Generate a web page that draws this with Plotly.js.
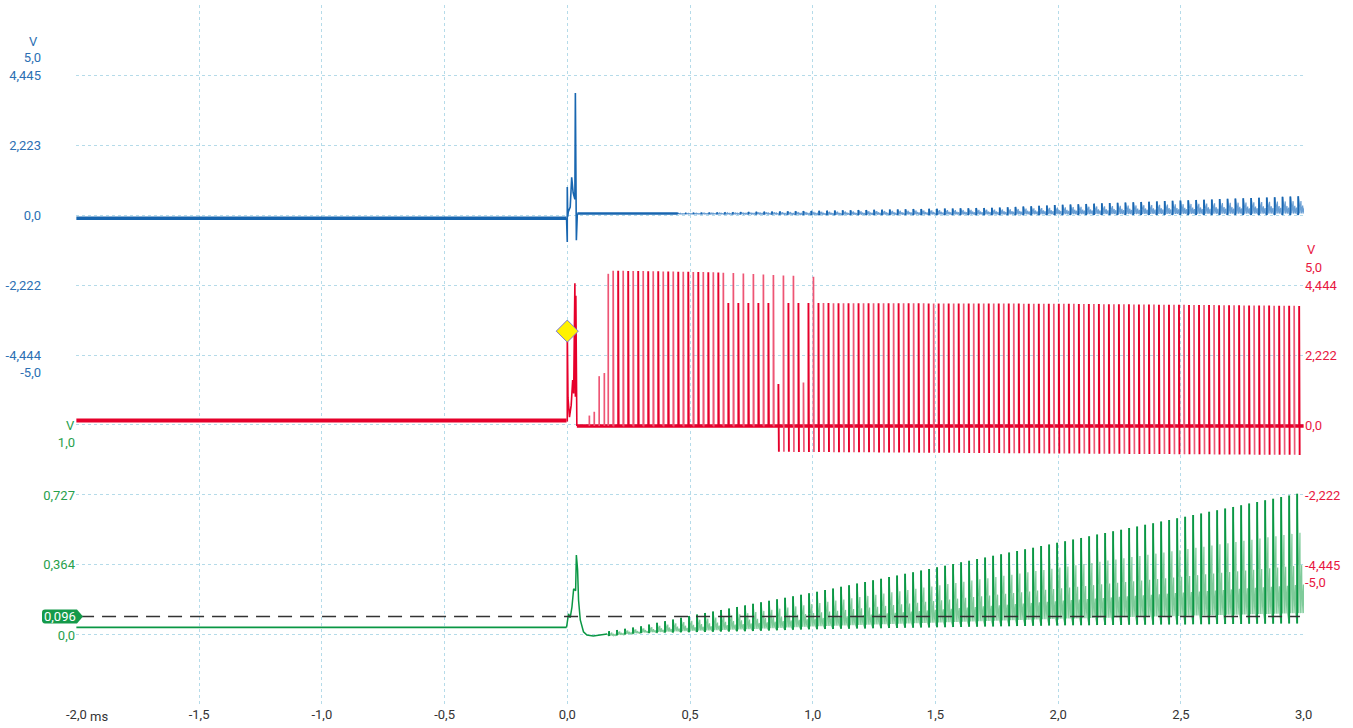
<!DOCTYPE html>
<html><head><meta charset="utf-8">
<script src="https://cdn.plot.ly/plotly-3.0.1.min.js"></script>
<style>html,body{margin:0;padding:0;background:#fff;}#chart{width:1353px;height:728px;}</style>
</head><body><div id="chart"></div>
<script>
// ---------- tick labels ----------
const timeTicks = [-2, -1.5, -1, -0.5, 0, 0.5, 1, 1.5, 2, 2.5, 3];
const timeTickText = ['-2,0', '-1,5', '-1,0', '-0,5', '0,0', '0,5', '1,0', '1,5', '2,0', '2,5', '3,0'];
const blueTicks = [5, 4.445, 2.223, 0, -2.222, -4.444, -5];
const blueTickText = ['5,0', '4,445', '2,223', '0,0', '-2,222', '-4,444', '-5,0'];
const redTicks = [5, 4.444, 2.222, 0, -2.222, -4.445, -5];
const redTickText = ['5,0', '4,444', '2,222', '0,0', '-2,222', '-4,445', '-5,0'];
const greenTicks = [1.0, 0.727, 0.364, 0, -0.364];
const greenTickText = ['1,0', '0,727', '0,364', '0,0', '-0,364'];

// ---------- Channel A (blue), volts vs ms ----------
const blueBaseT = [-2.0, -0.003];
const blueBaseV = [-0.1, -0.1];
const blueTransT = [-0.003, 0.0, 0.0, 0.002, 0.004, 0.012, 0.018, 0.024, 0.031, 0.033, 0.036, 0.037, 0.041];
const blueTransV = [-0.1, -0.86, 0.89, -0.05, 0.1, 0.25, 1.2, 0.7, 0.5, 3.87, 0.5, -0.8, 0.05];
const blueQuietT = [0.041, 0.45];
const blueQuietV = [0.05, 0.05];
const blueOscStart = 0.45, blueOscEnd = 3.0, blueOscPeriod = 0.032;
const blueEnvT = [0.45, 0.75, 1.0, 1.5, 1.75, 2.0, 2.5, 3.0];
const blueEnvPeak = [0.06, 0.1, 0.13, 0.2, 0.23, 0.32, 0.46, 0.6];
const blueEnvBase = [0.03, 0.02, 0.0, 0.0, 0.0, 0.0, 0.0, 0.0];

// ---------- Channel B (red) ----------
const redBaseT = [-2.0, -0.003];
const redBaseV = [0.14, 0.14];
const redTransT = [-0.003, 0.0, 0.0, 0.003, 0.009, 0.016, 0.022, 0.026, 0.031, 0.033, 0.035, 0.037, 0.039];
const redTransV = [0.14, 0.14, 3.1, 0.86, 0.25, 0.63, 1.43, 1.0, 4.5, 0.9, 4.1, 0.47, -0.03];
const redQuietT = [0.039, 3.0];
const redQuietV = [-0.03, -0.03];
const redEarlyPulseT = [0.09, 0.11, 0.13, 0.151, 0.167];
const redEarlyPulseV = [0.3, 0.42, 1.55, 1.65, 4.8];
const redTrainStart = 0.187, redTrainEnd = 3.0, redPeriod = 0.0204;
const redPeakT = [0.187, 0.6, 1.02, 1.031, 2.0, 3.0];
const redPeakV = [4.9, 4.85, 4.7, 3.87, 3.85, 3.78];
const redLowPeakT = [0.62, 1.031];      // region where every other pulse is lower
const redLowPeakV = [3.87, 3.87];
const redDipT = [0.84, 0.841, 3.0];
const redDipV = [-0.05, -0.85, -0.95];
const redHalfPulseT = [0.86, 0.955];
const redHalfPulseV = [1.3, 1.35];
const triggerT = [0.0];
const triggerV = [2.98];

// ---------- Channel C (green) ----------
const greenBaseT = [-2.0, -0.003];
const greenBaseV = [0.04, 0.04];
const greenTransT = [-0.003, 0.005, 0.012, 0.019, 0.026, 0.034, 0.037, 0.042, 0.046, 0.053, 0.066, 0.080, 0.106, 0.162];
const greenTransV = [0.04, 0.11, 0.09, 0.145, 0.24, 0.23, 0.415, 0.34, 0.18, 0.078, 0.017, 0.0, -0.005, 0.005];
const greenOscStart = 0.17, greenOscEnd = 3.0, greenOscPeriod = 0.0326;
const greenEnvT = [0.17, 0.3, 0.5, 0.75, 1.0, 1.5, 2.0, 2.5, 3.0];
const greenEnvPeak = [0.02, 0.045, 0.10, 0.16, 0.22, 0.35, 0.48, 0.61, 0.74];
const greenEnvBase = [-0.005, 0.01, 0.015, 0.02, 0.03, 0.04, 0.05, 0.055, 0.06];
const thresholdV = 0.096;

// ---------- helpers ----------
function at(ts, vs, t) {
  if (t <= ts[0]) return vs[0];
  for (let i = 1; i < ts.length; i++) {
    if (t <= ts[i]) { const f = (t - ts[i-1]) / (ts[i] - ts[i-1]); return vs[i-1] + f * (vs[i] - vs[i-1]); }
  }
  return vs[vs.length - 1];
}
function oscTraces(start, end, P, envT, envPeak, envBase, tops) {
  const lx = [], ly = [], dx = [], dy = [];
  for (let k = 0; ; k++) {
    const t = start + k * P; if (t > end - P * 0.3) break;
    const A = at(envT, envPeak, t), b = at(envT, envBase, t), h = A - b;
    lx.push(t, t); ly.push(b, A);
    for (let j = 0; j < tops.length; j++) {
      const tt = t + (j + 0.6) * P / (tops.length + 0.6);
      lx.push(tt, tt + P / 24); ly.push(b + h * tops[j], b + h * 0.08);
    }
    dx.push(t, t, t + P * 0.02, t + P * 0.02, null); dy.push(b, A, A, b + h * 0.45, null);
  }
  return [lx, ly, dx, dy];
}

const traces = [];
traces.push({x: [-2, 3], y: [0, 0], xaxis: 'x', yaxis: 'y', mode: 'none', hoverinfo: 'skip', showlegend: false});

// blue
const BLUE = '#1866b0', BLUE_L = '#6a9fd4';
traces.push({x: blueBaseT, y: blueBaseV, yaxis: 'y2', mode: 'lines', line: {color: BLUE, width: 3.5}});
traces.push({x: blueTransT, y: blueTransV, yaxis: 'y2', mode: 'lines', line: {color: BLUE, width: 1.6}});
traces.push({x: blueQuietT, y: blueQuietV, yaxis: 'y2', mode: 'lines', line: {color: BLUE, width: 2.5}});
{
  const [lx, ly, dx, dy] = oscTraces(blueOscStart, blueOscEnd, blueOscPeriod, blueEnvT, blueEnvPeak, blueEnvBase, [0.6, 0.75, 0.5, 0.4]);
  traces.push({x: lx, y: ly, yaxis: 'y2', mode: 'lines', line: {color: BLUE_L, width: 1.2}});
  traces.push({x: dx, y: dy, yaxis: 'y2', mode: 'lines', line: {color: BLUE, width: 1.8}});
}

// red
const RED = '#e6002b', RED_L = '#ee5675';
traces.push({x: redBaseT, y: redBaseV, yaxis: 'y3', mode: 'lines', line: {color: RED, width: 4}});
traces.push({x: redQuietT, y: redQuietV, yaxis: 'y3', mode: 'lines', line: {color: RED, width: 3.5}});
traces.push({x: redTransT, y: redTransV, yaxis: 'y3', mode: 'lines', line: {color: RED, width: 1.6}});
{
  const dX = [], dY = [], lX = [], lY = [];
  redEarlyPulseT.forEach((t, i) => { lX.push(t, t, null); lY.push(-0.03, redEarlyPulseV[i], null); });
  for (let k = 0; ; k++) {
    const t = redTrainStart + k * redPeriod; if (t > redTrainEnd + 1e-9) break;
    let pk = at(redPeakT, redPeakV, t);
    if (k % 2 === 1 && t >= redLowPeakT[0] && t < redLowPeakT[1]) pk = at(redLowPeakT, redLowPeakV, t);
    redHalfPulseT.forEach((ht, i) => { if (Math.abs(ht - t) < redPeriod / 2) pk = redHalfPulseV[i]; });
    const dip = at(redDipT, redDipV, t);
    const X = (k % 2 === 0) ? lX : dX, Y = (k % 2 === 0) ? lY : dY;
    X.push(t, t, t + 0.002, null); Y.push(-0.03, pk, dip, null);
  }
  traces.push({x: lX, y: lY, yaxis: 'y3', mode: 'lines', line: {color: RED_L, width: 1.7}});
  traces.push({x: dX, y: dY, yaxis: 'y3', mode: 'lines', line: {color: RED, width: 1.9}});
}
traces.push({x: triggerT, y: triggerV, yaxis: 'y3', mode: 'markers',
  marker: {symbol: 'diamond', size: 17, color: '#fff200', line: {color: '#7a78d8', width: 1}}});

// green
const GREEN = '#0a9744', GREEN_L = '#7fcb9a';
traces.push({x: greenBaseT, y: greenBaseV, yaxis: 'y4', mode: 'lines', line: {color: GREEN, width: 1.8}});
traces.push({x: greenTransT, y: greenTransV, yaxis: 'y4', mode: 'lines', line: {color: GREEN, width: 1.5}});
{
  const [lx, ly, dx, dy] = oscTraces(greenOscStart, greenOscEnd, greenOscPeriod, greenEnvT, greenEnvPeak, greenEnvBase, [0.55, 0.7, 0.45, 0.3]);
  traces.push({x: [0.162].concat(lx), y: [0.005].concat(ly), yaxis: 'y4', mode: 'lines', line: {color: GREEN_L, width: 1.2}});
  traces.push({x: dx, y: dy, yaxis: 'y4', mode: 'lines', line: {color: GREEN, width: 1.9}});
}
traces.forEach(t => { t.hoverinfo = 'skip'; t.showlegend = false; if (!t.xaxis) t.xaxis = 'x'; });

// ---------- layout ----------
const W = 1353, H = 728, ML = 10, MR = 49, MT = 5, MB = 23;
const PW = W - ML - MR;
const px = p => (p - ML) / PW;            // pixel x -> paper
const DIV = 2.2225, GDIV = 0.3635;
const FONT = 'Roboto, "Open Sans", sans-serif';
const FS = 13;
const GRID = '#b5dbe9';

const yCommon = {showgrid: false, zeroline: false, showline: false, ticks: '', tickmode: 'array', fixedrange: true, overlaying: 'y'};
const layout = {
  width: W, height: H, margin: {l: ML, r: MR, t: MT, b: MB, pad: 0},
  paper_bgcolor: '#ffffff', plot_bgcolor: '#ffffff', showlegend: false,
  font: {family: FONT, size: FS},
  xaxis: {domain: [px(76), 1], range: [-2.0015, 3.0015], tickmode: 'array', tickvals: timeTicks, ticktext: timeTickText,
    showgrid: true, gridcolor: GRID, griddash: '3px,3px', gridwidth: 1, zeroline: false, showline: false, ticks: '',
    tickfont: {family: FONT, size: FS, color: '#333333'}, fixedrange: true},
  yaxis: {range: [-0.003, 10.003], tickmode: 'array', tickvals: [0,1,2,3,4,5,6,7,8,9,10], showticklabels: false,
    showgrid: true, gridcolor: GRID, griddash: '3px,3px', gridwidth: 1, zeroline: false, showline: false, ticks: '', fixedrange: true},
  yaxis2: Object.assign({}, yCommon, {range: [-7 * DIV, 3 * DIV], anchor: 'free', position: px(41), side: 'left',
    tickvals: blueTicks, ticktext: blueTickText, tickfont: {family: FONT, size: FS, color: '#2c6fb3'}}),
  yaxis3: Object.assign({}, yCommon, {range: [-4 * 2.2222, 6 * 2.2222], anchor: 'x', side: 'right',
    tickvals: redTicks, ticktext: redTickText, tickfont: {family: FONT, size: FS, color: '#e8173f'}}),
  yaxis4: Object.assign({}, yCommon, {range: [-1 * GDIV, 9 * GDIV], anchor: 'x', side: 'left',
    tickvals: greenTicks, ticktext: greenTickText, tickfont: {family: FONT, size: FS, color: '#27a04c'}}),
  shapes: [
    {type: 'line', xref: 'x', yref: 'y4', x0: -1.985, x1: 2.985, y0: thresholdV, y1: thresholdV,
      line: {color: '#333333', width: 1.6, dash: '14px,8px'}, layer: 'above'},
    {type: 'path', xref: 'paper', yref: 'y4', fillcolor: '#149a4a', line: {width: 0}, layer: 'above',
      path: `M ${px(45)},${thresholdV + 0.0363} L ${px(77)},${thresholdV + 0.0363} L ${px(83)},${thresholdV} L ${px(77)},${thresholdV - 0.0363} L ${px(45)},${thresholdV - 0.0363} Q ${px(42)},${thresholdV - 0.0363} ${px(42)},${thresholdV - 0.02} L ${px(42)},${thresholdV + 0.02} Q ${px(42)},${thresholdV + 0.0363} ${px(45)},${thresholdV + 0.0363} Z`}
  ],
  annotations: [
    {xref: 'paper', yref: 'y2', x: px(40), y: 5.52, xanchor: 'right', yanchor: 'middle', text: 'V', showarrow: false,
      font: {family: FONT, size: FS, color: '#2c6fb3'}},
    {xref: 'paper', yref: 'y3', x: 1, y: 5.56, xanchor: 'left', yanchor: 'middle', xshift: 1, text: 'V', showarrow: false,
      font: {family: FONT, size: FS, color: '#e8173f'}},
    {xref: 'paper', yref: 'y4', x: px(77), y: 1.09, xanchor: 'right', yanchor: 'middle', text: 'V', showarrow: false,
      font: {family: FONT, size: FS, color: '#27a04c'}},
    {xref: 'paper', yref: 'y4', x: px(60), y: thresholdV, xanchor: 'center', yanchor: 'middle', text: '0,096', showarrow: false,
      font: {family: FONT, size: FS, color: '#ffffff'}},
    {xref: 'paper', yref: 'paper', x: px(88), y: 0, yshift: -11, xanchor: 'left', yanchor: 'middle', text: 'ms', showarrow: false,
      font: {family: FONT, size: FS, color: '#333333'}}
  ]
};
Plotly.newPlot('chart', traces, layout, {staticPlot: true, displayModeBar: false});
</script></body></html>
